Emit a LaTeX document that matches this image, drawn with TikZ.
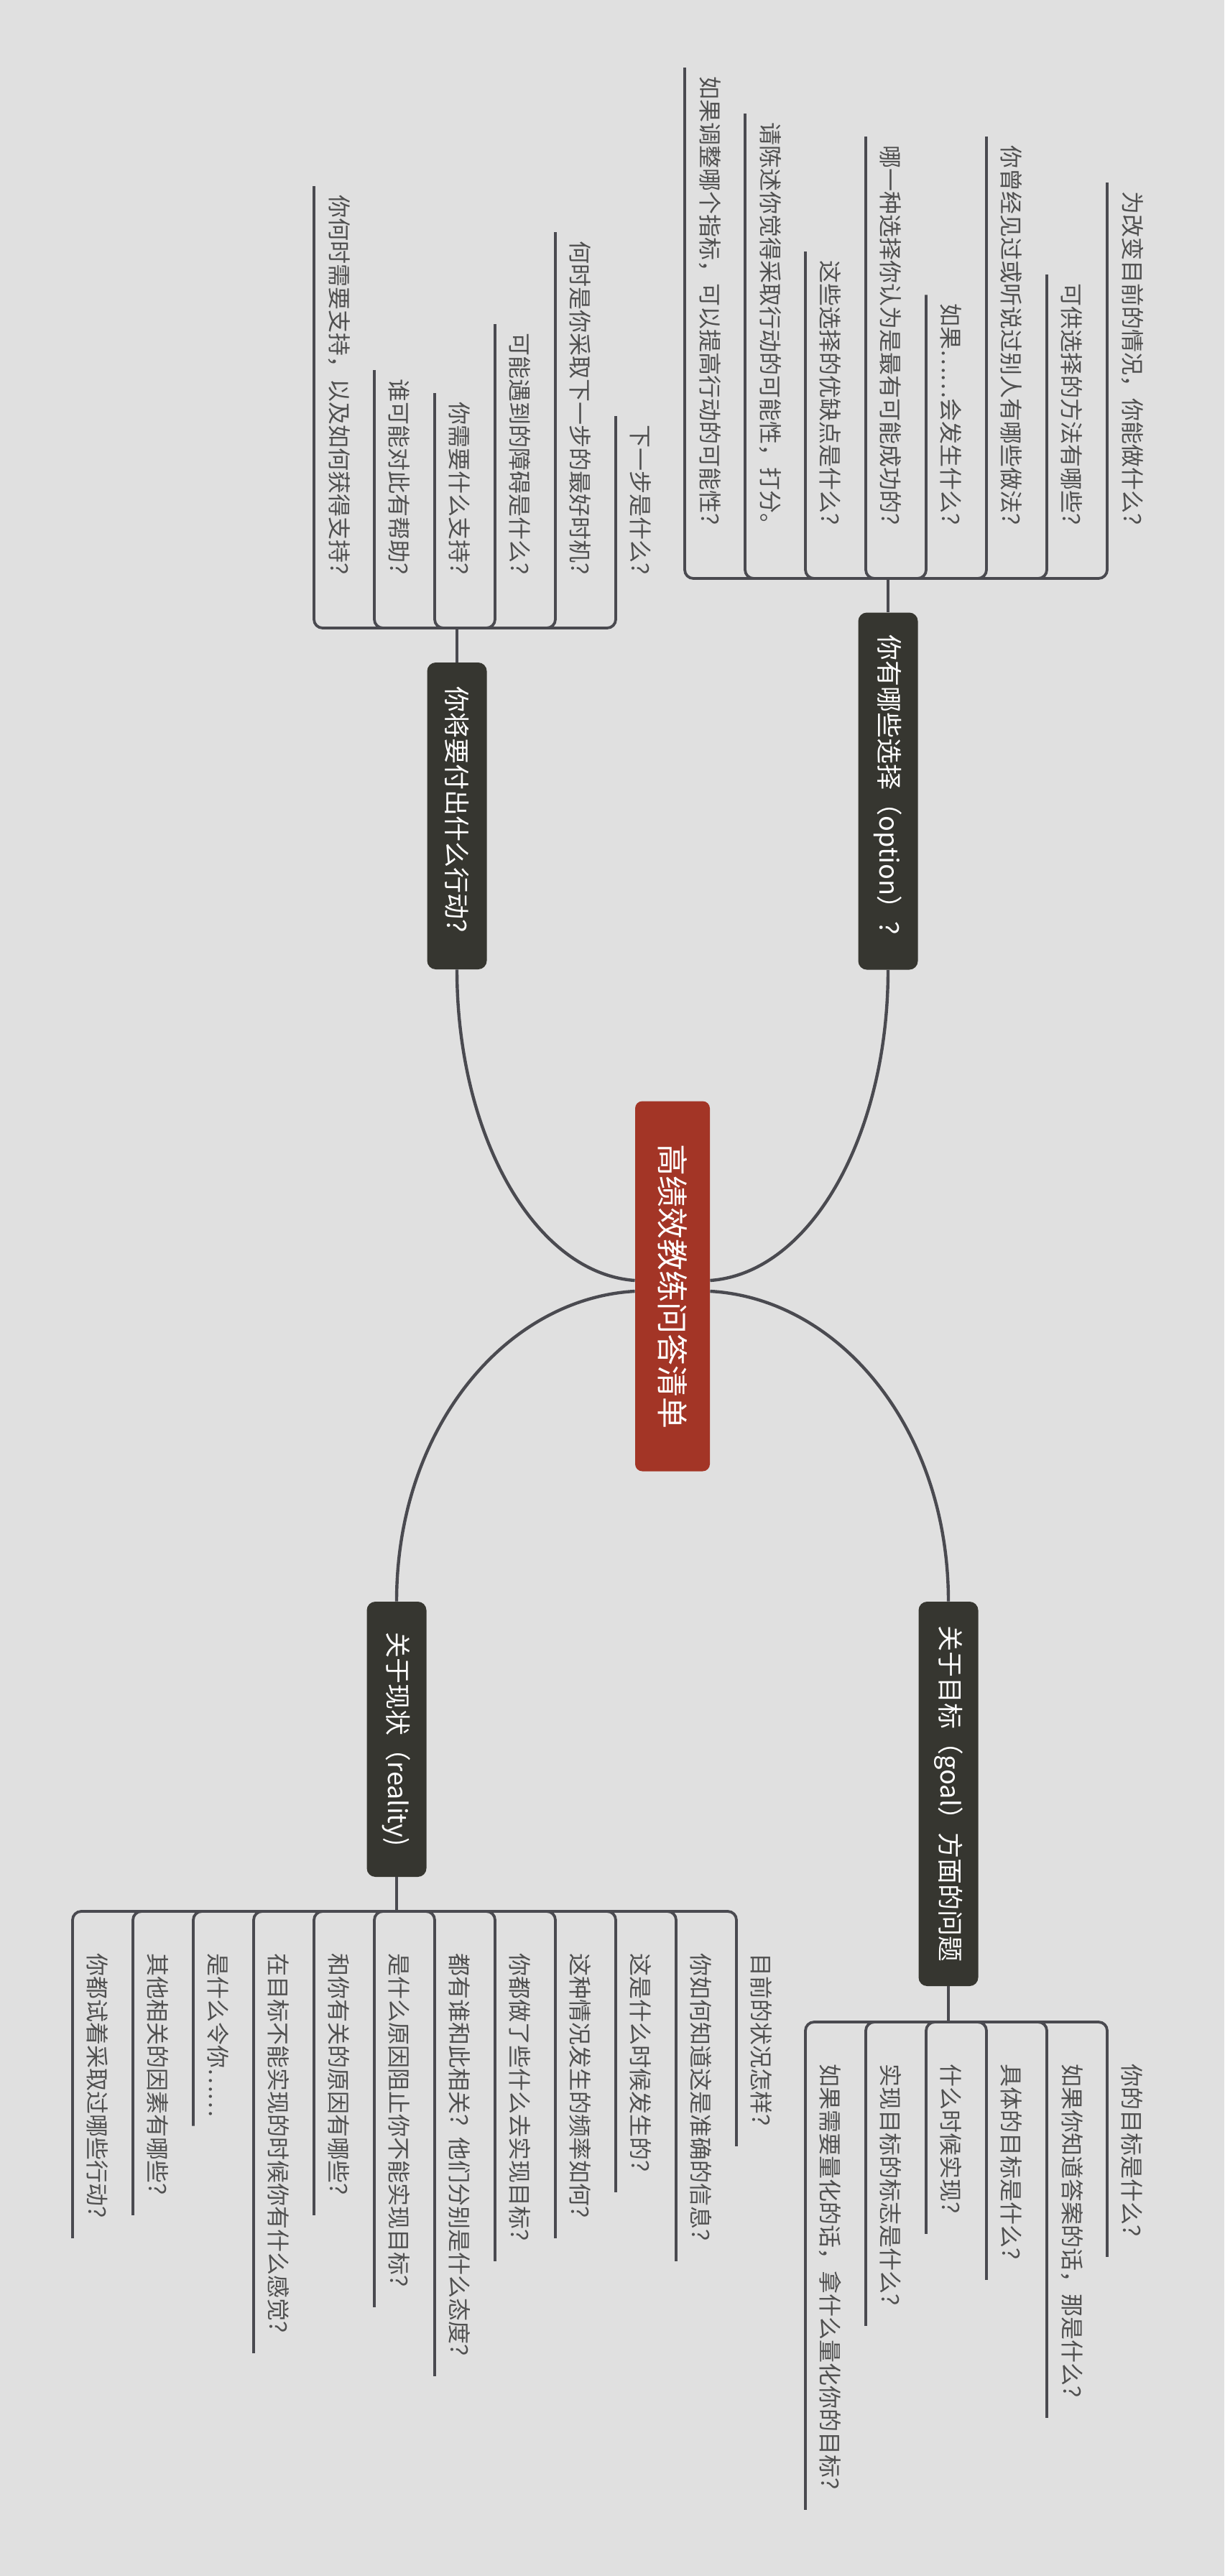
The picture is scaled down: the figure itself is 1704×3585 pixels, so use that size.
\documentclass[tikz,border=0pt]{standalone}
\usepackage{fontspec}
\setmainfont{Noto Sans CJK SC}
\usepackage{tikz}
\usetikzlibrary{positioning}
\definecolor{bggray}{HTML}{E0E0E0}
\definecolor{rootred}{HTML}{A33526}
\definecolor{topicdark}{HTML}{363630}
\definecolor{linegray}{HTML}{4A4A50}
\definecolor{leafgray}{HTML}{505050}

\begin{document}
\begin{tikzpicture}[x=0.5pt,y=-0.5pt,
        rootbox/.style={rotate=-90, fill=rootred, rounded corners=5pt, text=white, font=\fontsize{22}{26}\selectfont, inner sep=0pt, minimum height=52pt},
        topicbox/.style={rotate=-90, fill=topicdark, rounded corners=6pt, text=white, font=\fontsize{18}{22}\selectfont, inner sep=0pt, minimum height=41.5pt},
        leaf/.style={rotate=-90, text=leafgray, font=\fontsize{16}{20}\selectfont, inner sep=0pt},
        curve/.style={linegray, line width=2.2pt},
        branch/.style={linegray, line width=1.9pt, rounded corners=6pt}]

        % background
        \fill[bggray] (0,0) rectangle (1704,3585);

        % centre and main topics
        \node[rootbox, minimum width=257.5pt] (root) at (936,1790) {高绩效教练问答清单};
        \node[topicbox, minimum width=248.5pt] (option) at (1236,1101) {你有哪些选择（option）？};
        \node[topicbox, minimum width=213.5pt] (action) at (636,1135.5) {你将要付出什么行动？};
        \node[topicbox, minimum width=267.5pt] (goal) at (1320,2496.5) {关于目标（goal）方面的问题};
        \node[topicbox, minimum width=191.5pt] (reality) at (552,2420.5) {关于现状（reality)};

        % curves from the centre
        \draw[curve] ([yshift=4pt]root.north) .. controls +(140,-10) and +(0,230) .. (option.east);
        \draw[curve] ([yshift=4pt]root.south) .. controls +(-140,-10) and +(0,230) .. (action.east);
        \draw[curve] ([yshift=-3.5pt]root.north) .. controls +(180,10) and +(0,-240) .. (goal.west);
        \draw[curve] ([yshift=-3.5pt]root.south) .. controls +(-180,10) and +(0,-240) .. (reality.west);

        % option
        \coordinate (oT) at (1236,805);
        \draw[branch] (option.west) -- (oT);
        \foreach \k/\t in {0/如果调整哪个指标，可以提高行动的可能性？, 1/请陈述你觉得采取行动的可能性，打分。,
                2/这些选择的优缺点是什么？, 3/哪一种选择你认为是最有可能成功的？, 4/如果……会发生什么？,
                5/你曾经见过或听说过别人有哪些做法？, 6/可供选择的方法有哪些？, 7/为改变目前的情况，你能做什么？} {
            \node[leaf, anchor=east] (o\k) at ({988+84*\k},747) {\t};
            \draw[branch] (oT) -| ([xshift=-17.5pt,yshift=6pt]o\k.west);
        }

        % action
        \coordinate (aT) at (636,874);
        \draw[branch] (action.west) -- (aT);
        \foreach \k/\t in {0/你何时需要支持，以及如何获得支持？, 1/谁可能对此有帮助？, 2/你需要什么支持？,
                3/可能遇到的障碍是什么？, 4/何时是你采取下一步的最好时机？, 5/下一步是什么？} {
            \node[leaf, anchor=east] (a\k) at ({472+84*\k},816) {\t};
            \draw[branch] (aT) -| ([xshift=-17.5pt,yshift=6pt]a\k.west);
        }

        % goal
        \coordinate (gT) at (1320,2814);
        \draw[branch] (goal.east) -- (gT);
        \foreach \k/\t in {0/如果需要量化的话，拿什么量化你的目标？, 1/实现目标的标志是什么？, 2/什么时候实现？,
                3/具体的目标是什么？, 4/如果你知道答案的话，那是什么？, 5/你的目标是什么？} {
            \node[leaf, anchor=west] (g\k) at ({1156+84*\k},2872) {\t};
            \draw[branch] (gT) -| ([xshift=-17.5pt,yshift=-6pt]g\k.east);
        }

        % reality
        \coordinate (rT) at (552,2660);
        \draw[branch] (reality.east) -- (rT);
        \foreach \k/\t in {0/你都试着采取过哪些行动？, 1/其他相关的因素有哪些？, 2/是什么令你……,
                3/在目标不能实现的时候你有什么感觉？, 4/和你有关的原因有哪些？, 5/是什么原因阻止你不能实现目标？,
                6/都有谁和此相关？他们分别是什么态度？, 7/你都做了些什么去实现目标？, 8/这种情况发生的频率如何？,
                9/这是什么时候发生的？, 10/你如何知道这是准确的信息？, 11/目前的状况怎样？} {
            \node[leaf, anchor=west] (r\k) at ({136+84*\k},2718) {\t};
            \draw[branch] (rT) -| ([xshift=-17.5pt,yshift=-6pt]r\k.east);
        }
    \end{tikzpicture}
\end{document}
